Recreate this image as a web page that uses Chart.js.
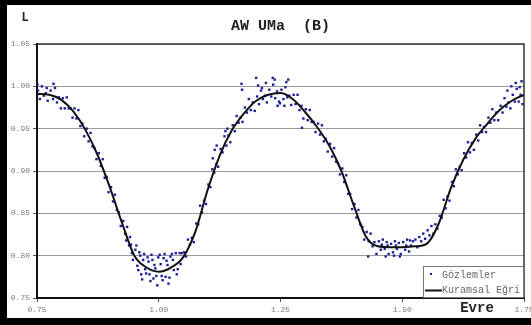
<!DOCTYPE html>
<html>
<head>
<meta charset="utf-8">
<script src="https://cdn.jsdelivr.net/npm/chart.js@4/dist/chart.umd.min.js"></script>
<style>
  html, body { margin: 0; padding: 0; background: #fff; }
  #wrap { position: relative; width: 531px; height: 325px; }
</style>
</head>
<body>
<div id="wrap"><canvas id="lc" width="531" height="325"></canvas></div>
<script>
// AW UMa (B) light curve: observed points + theoretical fit
const chartTitle = 'AW UMa  (B)';
const yName = 'L';
const xName = 'Evre';
const obsLabel = 'Gözlemler';
const fitLabel = 'Kuramsal Eğri';

const xTicks = [0.75, 1.00, 1.25, 1.50, 1.75];
const yTicks = [0.75, 0.80, 0.85, 0.90, 0.95, 1.00, 1.05];

const obsPhase = [
  0.751, 0.752, 0.756, 0.760, 0.764, 0.768, 0.770, 0.772, 0.778, 0.783, 0.784, 0.787, 0.791, 0.795, 0.799,
  0.803, 0.807, 0.811, 0.815, 0.819, 0.823, 0.827, 0.831, 0.835, 0.839, 0.843, 0.847,
  0.852, 0.856, 0.860, 0.864, 0.868, 0.872, 0.877, 0.881, 0.885, 0.889, 0.893, 0.897,
  0.902, 0.906, 0.910, 0.914, 0.918, 0.922, 0.927, 0.931, 0.933, 0.935, 0.939, 0.941, 0.943, 0.945, 0.947,
  0.952, 0.954, 0.956, 0.958, 0.960, 0.962, 0.964, 0.966, 0.968, 0.970, 0.972, 0.974,
  0.977, 0.979, 0.981, 0.983, 0.985, 0.987, 0.989, 0.991, 0.993, 0.995, 0.997, 0.999,
  1.002, 1.004, 1.006, 1.008, 1.010, 1.012, 1.014, 1.016, 1.018, 1.020, 1.022, 1.024,
  1.027, 1.029, 1.031, 1.035, 1.037, 1.039, 1.043, 1.045, 1.047,
  1.052, 1.056, 1.060, 1.064, 1.068, 1.072, 1.077, 1.081, 1.085, 1.089, 1.093, 1.097,
  1.102, 1.106, 1.110, 1.111, 1.114, 1.115, 1.118, 1.119, 1.122,
  1.127, 1.131, 1.135, 1.137, 1.139, 1.141, 1.143, 1.147,
  1.152, 1.156, 1.160, 1.164, 1.168, 1.170, 1.171, 1.172,
  1.177, 1.181, 1.185, 1.189, 1.193, 1.197,
  1.200, 1.202, 1.204, 1.206, 1.210, 1.212, 1.214, 1.218, 1.220, 1.222,
  1.227, 1.231, 1.234, 1.235, 1.238, 1.239, 1.243, 1.244, 1.247, 1.249,
  1.252, 1.256, 1.258, 1.260, 1.262, 1.264, 1.266, 1.268, 1.272,
  1.277, 1.281, 1.285, 1.289, 1.293, 1.294, 1.297,
  1.302, 1.306, 1.310, 1.314, 1.318, 1.322, 1.327, 1.331, 1.335, 1.339, 1.343, 1.347,
  1.352, 1.356, 1.360, 1.364, 1.368, 1.372, 1.377, 1.381, 1.385, 1.389, 1.393, 1.397,
  1.402, 1.406, 1.410, 1.414, 1.418, 1.422, 1.427, 1.430, 1.431, 1.435, 1.439, 1.443, 1.447,
  1.452, 1.456, 1.458, 1.460, 1.464, 1.466, 1.468, 1.470, 1.472,
  1.477, 1.481, 1.483, 1.485, 1.487, 1.489, 1.493, 1.495, 1.497,
  1.502, 1.506, 1.508, 1.510, 1.514, 1.516, 1.518, 1.522,
  1.527, 1.531, 1.535, 1.539, 1.543, 1.547, 1.552, 1.556, 1.560, 1.564, 1.568, 1.572,
  1.577, 1.581, 1.585, 1.589, 1.593, 1.597, 1.602, 1.606, 1.610, 1.614, 1.618, 1.622,
  1.627, 1.631, 1.635, 1.639, 1.643, 1.647, 1.652, 1.656, 1.660, 1.664, 1.668, 1.672,
  1.677, 1.681, 1.685, 1.689, 1.693, 1.697, 1.702, 1.706, 1.710, 1.714, 1.716, 1.718, 1.722, 1.724,
  1.727, 1.731, 1.733, 1.735, 1.739, 1.741, 1.743, 1.745, 1.747
];

const obsLight = [
  1.002, 0.995, 0.985, 1.000, 0.989, 0.992, 0.998, 0.983, 0.995, 0.985, 1.003, 0.998, 0.981, 0.987, 0.974,
  0.986, 0.974, 0.987, 0.974, 0.974, 0.963, 0.974, 0.962, 0.972, 0.953, 0.956, 0.941,
  0.950, 0.935, 0.945, 0.929, 0.927, 0.914, 0.921, 0.906, 0.914, 0.892, 0.893, 0.875,
  0.881, 0.864, 0.872, 0.854, 0.851, 0.835, 0.841, 0.826, 0.818, 0.834, 0.812, 0.822, 0.813, 0.803, 0.795,
  0.807, 0.812, 0.788, 0.783, 0.804, 0.800, 0.778, 0.772, 0.795, 0.802, 0.784, 0.779,
  0.798, 0.793, 0.778, 0.770, 0.801, 0.795, 0.773, 0.789, 0.785, 0.776, 0.765, 0.798,
  0.801, 0.790, 0.776, 0.771, 0.797, 0.802, 0.775, 0.794, 0.789, 0.767, 0.774, 0.799,
  0.802, 0.795, 0.783, 0.803, 0.778, 0.784, 0.803, 0.790, 0.803,
  0.804, 0.799, 0.819, 0.813, 0.821, 0.816, 0.838, 0.837, 0.859, 0.851, 0.865, 0.861,
  0.884, 0.881, 0.902, 0.915, 0.898, 0.925, 0.908, 0.930, 0.905,
  0.926, 0.922, 0.941, 0.947, 0.930, 0.950, 0.942, 0.934,
  0.954, 0.947, 0.965, 0.957, 0.963, 1.003, 0.996, 0.958,
  0.975, 0.969, 0.985, 0.972, 0.981, 0.971,
  1.010, 0.988, 1.001, 0.979, 0.995, 0.998, 0.985, 0.989, 1.004, 0.981,
  0.996, 0.988, 1.010, 1.002, 1.008, 0.986, 0.994, 0.977, 0.982, 0.980,
  0.996, 0.985, 0.977, 0.999, 1.005, 0.987, 1.008, 0.989, 0.978,
  0.990, 0.979, 0.990, 0.972, 0.977, 0.951, 0.962,
  0.973, 0.960, 0.972, 0.958, 0.958, 0.946, 0.956, 0.943, 0.954, 0.935, 0.938, 0.923,
  0.932, 0.917, 0.927, 0.911, 0.909, 0.896, 0.903, 0.887, 0.895, 0.873, 0.873, 0.855,
  0.861, 0.845, 0.854, 0.837, 0.834, 0.819, 0.828, 0.799, 0.817, 0.826, 0.811, 0.816, 0.802,
  0.817, 0.807, 0.813, 0.819, 0.808, 0.799, 0.816, 0.812, 0.802,
  0.814, 0.804, 0.800, 0.817, 0.812, 0.808, 0.815, 0.799, 0.802,
  0.816, 0.807, 0.812, 0.819, 0.805, 0.818, 0.812, 0.817,
  0.819, 0.810, 0.822, 0.817, 0.826, 0.820, 0.830, 0.824, 0.835, 0.826, 0.837, 0.832,
  0.847, 0.845, 0.866, 0.856, 0.870, 0.865, 0.887, 0.882, 0.902, 0.896, 0.905, 0.901,
  0.921, 0.916, 0.934, 0.922, 0.933, 0.925, 0.943, 0.936, 0.954, 0.946, 0.952, 0.946,
  0.963, 0.957, 0.973, 0.960, 0.969, 0.960, 0.977, 0.969, 0.986, 0.976, 0.995, 0.981, 0.974, 1.000,
  0.990, 0.982, 1.004, 0.997, 0.982, 0.999, 0.990, 1.006, 0.979
];

const fitPhase = [
  0.750, 0.775, 0.800, 0.825, 0.850, 0.875, 0.900, 0.925, 0.950, 0.975,
  1.000, 1.025, 1.050, 1.075, 1.100, 1.125, 1.150, 1.175, 1.200, 1.225,
  1.250, 1.275, 1.300, 1.325, 1.350, 1.375, 1.400, 1.425, 1.450, 1.475,
  1.500, 1.525, 1.550, 1.575, 1.600, 1.625, 1.650, 1.675, 1.700, 1.725, 1.750
];

const fitLight = [
  0.991, 0.990, 0.984, 0.970, 0.948, 0.918, 0.880, 0.838, 0.800, 0.786,
  0.781, 0.786, 0.798, 0.828, 0.877, 0.918, 0.948, 0.968, 0.983, 0.990,
  0.992, 0.985, 0.970, 0.952, 0.930, 0.900, 0.860, 0.823, 0.811, 0.810,
  0.810, 0.811, 0.814, 0.838, 0.880, 0.913, 0.938, 0.956, 0.972, 0.983, 0.990
];

const mono = "'Liberation Mono', 'Courier New', monospace";

// black frame, plot box, title texts and the in-plot legend
const decorations = {
  id: 'decorations',
  beforeDraw(chart) {
    const ctx = chart.ctx;
    ctx.save();
    ctx.fillStyle = '#fff';
    ctx.fillRect(0, 0, chart.width, chart.height);
    ctx.restore();
  },
  beforeDatasetsDraw(chart) {
    const { ctx, chartArea: a } = chart;
    ctx.save();
    ctx.strokeStyle = '#333';
    ctx.lineWidth = 1.5;
    ctx.beginPath();
    ctx.moveTo(a.left, a.top);
    ctx.lineTo(a.right, a.top);
    ctx.lineTo(a.right, a.bottom);
    ctx.stroke();
    ctx.restore();
  },
  afterDraw(chart) {
    const { ctx, chartArea: a } = chart;
    ctx.save();

    ctx.fillStyle = '#222';
    ctx.textBaseline = 'middle';
    ctx.textAlign = 'center';
    ctx.font = 'bold 15px ' + mono;
    ctx.fillText(chartTitle, (a.left + a.right) / 2, 26);
    ctx.font = 'bold 12px ' + mono;
    ctx.fillText(yName, 25, 18);
    ctx.font = 'bold 14px ' + mono;
    ctx.fillText(xName, 477, 308);

    // legend box
    const bx = 423, by = 266, bw = a.right - 1 - bx, bh = a.bottom - 1 - by;
    ctx.fillStyle = '#fff';
    ctx.fillRect(bx, by, bw, bh);
    ctx.strokeStyle = '#777';
    ctx.lineWidth = 1;
    ctx.strokeRect(bx + 0.5, by + 0.5, bw, bh);

    ctx.font = '10px ' + mono;
    ctx.fillStyle = '#666';
    ctx.textAlign = 'left';
    ctx.fillText(chart.data.datasets[0].label, 442, 275);
    ctx.fillText(chart.data.datasets[1].label, 442, 290);
    ctx.fillStyle = '#1c1f96';
    ctx.fillRect(430, 273, 2, 2);
    ctx.strokeStyle = '#111';
    ctx.lineWidth = 2;
    ctx.beginPath();
    ctx.moveTo(425, 290.5);
    ctx.lineTo(442, 290.5);
    ctx.stroke();

    // heavy black border of the picture
    ctx.fillStyle = '#000';
    ctx.fillRect(0, 0, chart.width, 5);
    ctx.fillRect(0, 0, 7, chart.height);
    ctx.fillRect(0, chart.height - 7, chart.width, 7);
    ctx.restore();
  }
};

new Chart(document.getElementById('lc'), {
  type: 'scatter',
  data: {
    datasets: [
      {
        label: obsLabel,
        data: obsPhase.map((p, i) => ({ x: p, y: obsLight[i] })),
        pointStyle: 'rect',
        pointRadius: 1.7,
        pointBorderWidth: 0,
        backgroundColor: '#1c1f96',
        borderColor: '#1c1f96',
        order: 2
      },
      {
        label: fitLabel,
        type: 'line',
        data: fitPhase.map((p, i) => ({ x: p, y: fitLight[i] })),
        borderColor: '#111',
        borderWidth: 2,
        pointRadius: 0,
        fill: false,
        cubicInterpolationMode: 'monotone',
        order: 1
      }
    ]
  },
  options: {
    responsive: false,
    animation: false,
    devicePixelRatio: 1,
    layout: {
      autoPadding: false,
      padding: { top: 44, right: 7, left: 0, bottom: 0 }
    },
    plugins: {
      legend: { display: false },
      title: { display: false },
      tooltip: { enabled: false }
    },
    scales: {
      x: {
        type: 'linear',
        min: xTicks[0],
        max: xTicks[xTicks.length - 1],
        afterBuildTicks: s => { s.ticks = xTicks.map(v => ({ value: v })); },
        afterFit: s => { s.height = 27; s.paddingLeft = 0; s.paddingRight = 0; },
        grid: { drawOnChartArea: false, drawTicks: true, tickLength: 4, color: '#555' },
        border: { display: true, color: '#111', width: 2 },
        ticks: {
          padding: 3,
          color: '#7a7a7a',
          font: { family: mono, size: 8 },
          callback: v => v.toFixed(2)
        }
      },
      y: {
        min: yTicks[0],
        max: yTicks[yTicks.length - 1],
        afterBuildTicks: s => { s.ticks = yTicks.map(v => ({ value: v })); },
        afterFit: s => { s.width = 37; s.paddingTop = 0; s.paddingBottom = 0; },
        grid: { color: '#9a9a9a', lineWidth: 1, tickLength: 4, tickColor: '#555' },
        border: { display: true, color: '#111', width: 2 },
        ticks: {
          padding: 3,
          color: '#7a7a7a',
          font: { family: mono, size: 8 },
          callback: v => v.toFixed(2)
        }
      }
    }
  },
  plugins: [decorations]
});
</script>
</body>
</html>
